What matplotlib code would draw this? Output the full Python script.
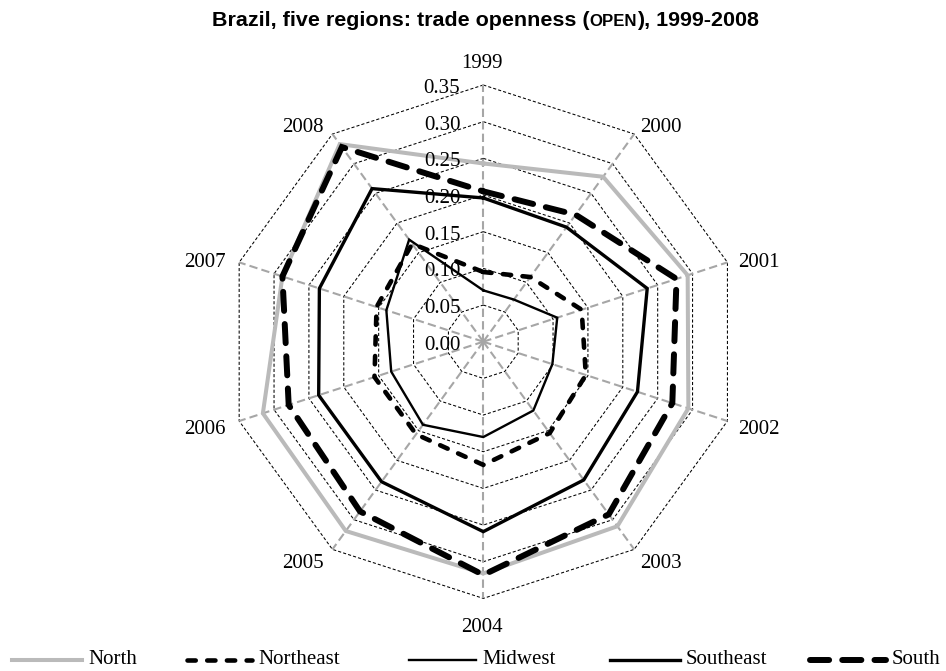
import numpy as np
import matplotlib
matplotlib.use("Agg")
import matplotlib.pyplot as plt
from matplotlib.lines import Line2D

# ---------------- data ----------------
years = ["1999", "2000", "2001", "2002", "2003", "2004", "2005", "2006", "2007", "2008"]
north = [0.243, 0.278, 0.293, 0.294, 0.311, 0.316, 0.319, 0.316, 0.288, 0.333]
northeast = [0.095, 0.109, 0.141, 0.147, 0.154, 0.168, 0.156, 0.156, 0.153, 0.165]
midwest = [0.070, 0.071, 0.106, 0.099, 0.116, 0.130, 0.140, 0.132, 0.139, 0.172]
southeast = [0.196, 0.193, 0.235, 0.221, 0.233, 0.259, 0.236, 0.236, 0.235, 0.258]
south = [0.205, 0.214, 0.277, 0.271, 0.291, 0.318, 0.286, 0.279, 0.288, 0.328]
series_names = ["North", "Northeast", "Midwest", "Southeast", "South"]
series_values = [north, northeast, midwest, southeast, south]
ring_values = [0.00, 0.05, 0.10, 0.15, 0.20, 0.25, 0.30, 0.35]

# ---------------- styles ----------------
styles = {
    "North": dict(color="#bababa", lw=2.9, ls="-"),
    "Northeast": dict(color="black", lw=3.3, ls=(0, (1.8, 2.5))),
    "Midwest": dict(color="black", lw=1.7, ls="-"),
    "Southeast": dict(color="black", lw=2.4, ls="-"),
    "South": dict(color="black", lw=4.3, ls=(0, (3.2, 2.2))),
}
SERIF = "Liberation Serif"
SANS = "Liberation Sans"
FS = 15

W, H = 946, 671
fig = plt.figure(figsize=(W / 100, H / 100), dpi=100)
cx, cy, R = 483.3, 341.7, 256.7
ax = fig.add_axes([(cx - R) / W, 1 - (cy + R) / H, 2 * R / W, 2 * R / H],
                  projection="polar")
ax.set_theta_offset(np.pi / 2)
ax.set_theta_direction(-1)
ax.set_ylim(0, ring_values[-1])
ax.set_xticks([])
ax.set_yticks([])
ax.grid(False)
ax.spines["polar"].set_visible(False)
ax.patch.set_visible(False)

n = len(years)
theta = 2 * np.pi * np.arange(n) / n
tc = np.append(theta, theta[0])

# ring polygons
for v in ring_values[1:]:
    ax.plot(tc, [v] * (n + 1), color="black", lw=0.75, ls=(0, (3, 2)),
            clip_on=False, zorder=1)
# spokes
for t in theta:
    ax.plot([t, t], [0, ring_values[-1]], color="#a6a6a6", lw=1.5,
            ls=(0, (4, 2)), clip_on=False, zorder=1.5)

# series
for name, vals in zip(series_names, series_values):
    st = styles[name]
    vc = list(vals) + [vals[0]]
    ax.plot(tc, vc, color=st["color"], lw=st["lw"], ls=st["ls"],
            dash_capstyle="round", solid_joinstyle="miter",
            dash_joinstyle="miter", clip_on=False, zorder=3)

# year labels
for t, lab in zip(theta, years):
    a = np.pi / 2 - t
    c, s = np.cos(a), np.sin(a)
    if abs(c) < 0.1:
        ha = "center"
        dx, dy = -1.5, 25 * s - 4
    else:
        ha = "left" if c > 0 else "right"
        dx, dy = 13 * c - 1.5, 13 * s - 4
    ax.annotate(lab, xy=(t, ring_values[-1]), xytext=(dx, dy),
                textcoords="offset pixels", ha=ha, va="center",
                fontsize=FS, family=SERIF, annotation_clip=False)

# radial tick labels
for v in ring_values:
    ax.annotate(f"{v:.2f}", xy=(0, v), xytext=(-23, -3.5),
                textcoords="offset pixels", ha="right", va="center",
                fontsize=FS, family=SERIF, zorder=5, annotation_clip=False)

# legend (manual)
leg_y = 1 - 660 / H
leg_x = [12, 187, 409, 610, 810]
leg_len = [70, 65, 67, 70, 76]
for name, x0, L in zip(series_names, leg_x, leg_len):
    st = styles[name]
    fig.add_artist(Line2D([x0 / W, (x0 + L) / W], [leg_y, leg_y],
                          transform=fig.transFigure, color=st["color"],
                          lw=st["lw"], ls=st["ls"], dash_capstyle="round"))
    fig.text((x0 + L + 6) / W, leg_y, name, ha="left", va="center",
             fontsize=FS, family=SERIF)

# title in parts
fig.canvas.draw()
renderer = fig.canvas.get_renderer()
parts = [("Brazil, five regions: trade openness (", 1.0),
         ("OPEN", 0.78),
         ("), 1999-2008", 1.0)]
base = 14.0
target_w = 545
tmp = []
for txt, f in parts:
    t = fig.text(0, 0, txt, fontsize=base * f, family=SANS, weight="bold")
    tmp.append(t)
fig.canvas.draw()
total = sum(t.get_window_extent(renderer).width for t in tmp)
for t in tmp:
    t.remove()
size = base * target_w / total
title_cx = 485
baseline = 1 - 25.5 / H
texts = []
for txt, f in parts:
    texts.append(fig.text(0, baseline, txt, fontsize=size * f, family=SANS,
                          weight="bold", va="baseline", ha="left"))
fig.canvas.draw()
widths = [t.get_window_extent(renderer).width for t in texts]
x = title_cx - sum(widths) / 2
for t, w in zip(texts, widths):
    t.set_x(x / W)
    x += w

fig.savefig("out.png", dpi=100)
